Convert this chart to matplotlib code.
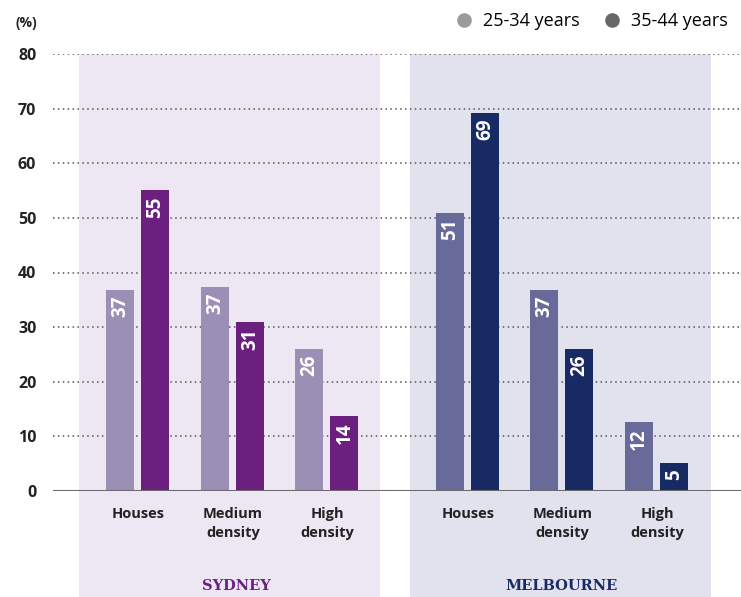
import matplotlib
matplotlib.use("Agg")
import matplotlib.pyplot as plt
from matplotlib.patches import Rectangle
from matplotlib.lines import Line2D

# ---- data ----
categories = ["Houses", "Medium\ndensity", "High\ndensity"]
cities = ["SYDNEY", "MELBOURNE"]
series = ["25-34 years", "35-44 years"]
sydney_2534 = [36.8, 37.4, 26.0]
sydney_3544 = [55.1, 30.9, 13.7]
melbourne_2534 = [50.9, 36.8, 12.6]
melbourne_3544 = [69.2, 26.0, 5.1]
sydney_labels_2534 = [37, 37, 26]
sydney_labels_3544 = [55, 31, 14]
melbourne_labels_2534 = [51, 37, 12]
melbourne_labels_3544 = [69, 26, 5]
yticks = [0, 10, 20, 30, 40, 50, 60, 70, 80]

# ---- style ----
FONT = "Open Sans"
syd_colors = ["#9b8fb5", "#6b1f7f"]
mel_colors = ["#686a9a", "#172a64"]
panel_colors = ["#ede7f3", "#e1e2ee"]
city_colors = ["#6b1f7f", "#1a2a66"]
legend_colors = ["#9a9a9a", "#666666"]

W, H = 741, 597
fig = plt.figure(figsize=(W / 100, H / 100), dpi=100)
ax = fig.add_axes([53 / W, (H - 491) / H, (741 - 53) / W, (491 - 54) / H])

unit = 94.5
x0 = 137.5
def px(p):
    return (p - x0) / unit

ax.set_xlim(px(53), px(741))
ax.set_ylim(0, 80)
yscale = (491 - 54) / 80.0  # px per unit

offsets = [0, 3.487]
bw = 28 / unit
sep = 35 / 2 / unit

# panels
panel_spans = [(79, 380), (410, 711)]
for (a, b), c in zip(panel_spans, panel_colors):
    ax.add_patch(Rectangle((px(a), -25), px(b) - px(a), 105, facecolor=c,
                           edgecolor="none", zorder=0, clip_on=False))

# gridlines
for t in yticks[1:]:
    ax.axhline(t, color="#555555", lw=1.1, linestyle=(0, (1, 2.2)), zorder=1)
ax.axhline(0, color="#6a6a6a", lw=2.2, zorder=3)

data = [(sydney_2534, sydney_3544, sydney_labels_2534, sydney_labels_3544, syd_colors),
        (melbourne_2534, melbourne_3544, melbourne_labels_2534, melbourne_labels_3544, mel_colors)]

city_x = [236, 561]
for ci, (v1, v2, l1, l2, cols) in enumerate(data):
    for gi in range(len(categories)):
        xc = offsets[ci] + gi
        for si, (vals, labs) in enumerate([(v1, l1), (v2, l2)]):
            xb = xc - sep if si == 0 else xc + sep
            ax.bar(xb, vals[gi], width=bw, color=cols[si], zorder=2)
            ax.text(xb + 0.005, vals[gi] - 6 / yscale, str(labs[gi]), rotation=90,
                    ha="center", va="top", color="white", fontsize=13.5,
                    fontweight="bold", family=FONT, zorder=4)
        ax.text(xc + 0.01, -(507 - 491) / yscale, categories[gi], ha="center",
                va="top", fontsize=10.5, fontweight="bold", family=FONT,
                color="#222222", linespacing=1.45, zorder=4, clip_on=False)
    ax.text(px(city_x[ci]), -(586.5 - 491) / yscale, cities[ci], ha="center",
            va="center", fontsize=10.5, fontweight="bold", family="DejaVu Serif",
            color=city_colors[ci], zorder=4, clip_on=False)

ax.set_yticks(yticks)
ax.set_yticklabels([str(t) for t in yticks], fontsize=11.5, fontweight="bold",
                   family=FONT, color="#222222")
ax.tick_params(axis="y", length=0, pad=12)
ax.set_xticks([])
for s in ax.spines.values():
    s.set_visible(False)
ax.patch.set_alpha(0)

fig.text(16 / W, 1 - 23 / H, "(%)", fontsize=10, fontweight="bold", family=FONT,
         color="#222222", va="center", ha="left")

handles = [Line2D([], [], marker="o", linestyle="none", markersize=10.5,
                  markerfacecolor=c, markeredgecolor="none") for c in legend_colors]
fig.legend(handles, series, loc="upper right", bbox_to_anchor=(1.0 - 2 / W, 1.0 - 1 / H),
           ncol=2, frameon=False, prop={"family": FONT, "size": 13},
           handletextpad=0.55, columnspacing=1.3, handlelength=1.0,
           borderaxespad=0.2)

fig.savefig("out.png", dpi=100)
